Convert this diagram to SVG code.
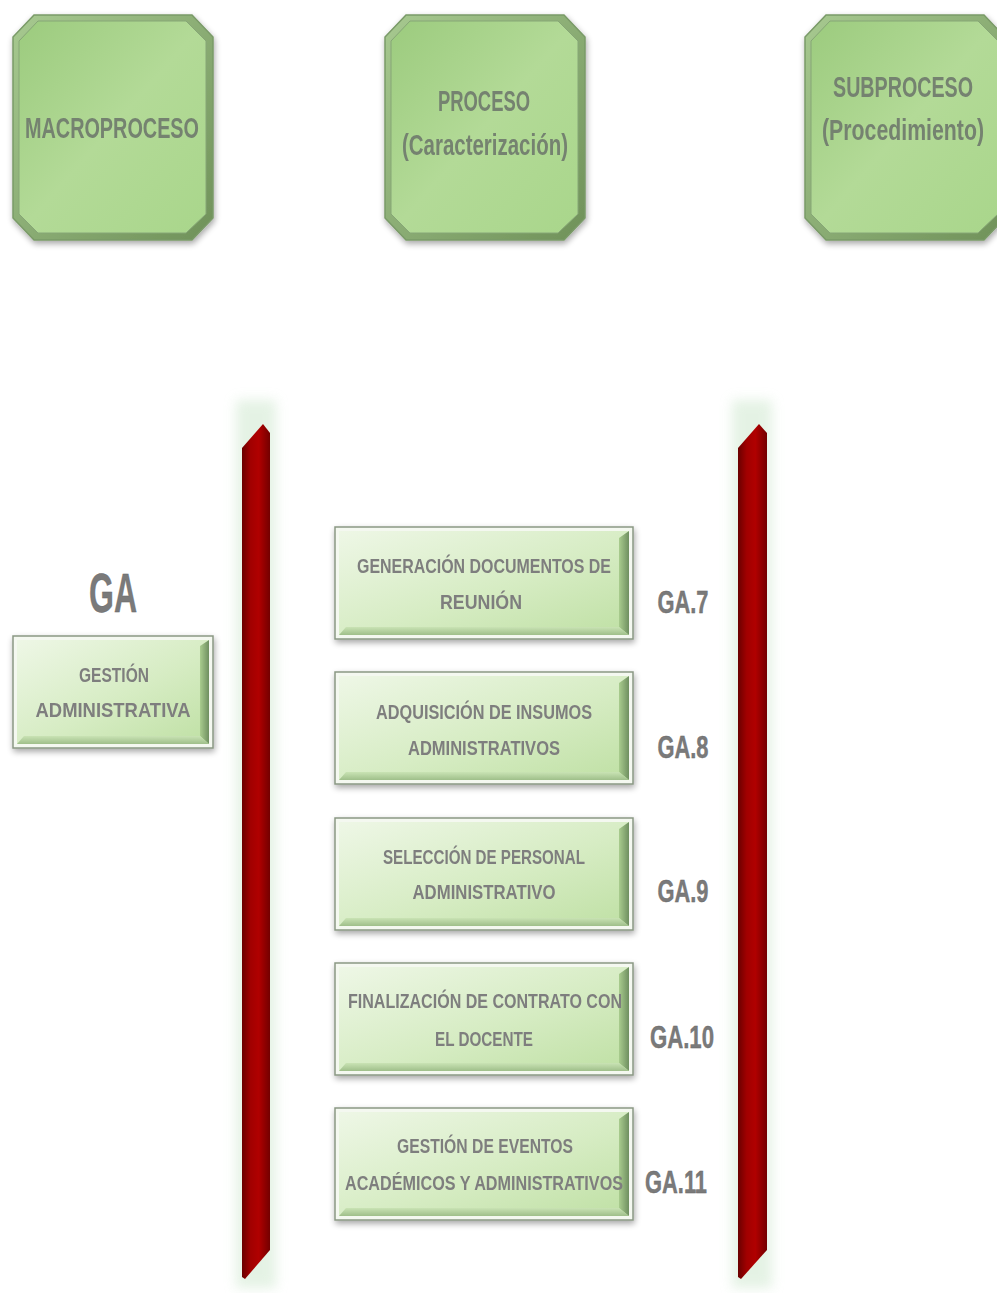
<svg xmlns="http://www.w3.org/2000/svg" width="997" height="1293" viewBox="0 0 997 1293">
  <defs>
    <linearGradient id="octFill" x1="0" y1="0" x2="1" y2="1">
      <stop offset="0" stop-color="#9ccb7e"/>
      <stop offset="0.5" stop-color="#b3da97"/>
      <stop offset="1" stop-color="#a9d68b"/>
    </linearGradient>
    <linearGradient id="octEdge" x1="0" y1="0" x2="1" y2="1">
      <stop offset="0" stop-color="#a7c990"/>
      <stop offset="1" stop-color="#6f9159"/>
    </linearGradient>
    <linearGradient id="boxFill" x1="0" y1="0" x2="1" y2="1">
      <stop offset="0" stop-color="#eef7e6"/>
      <stop offset="0.55" stop-color="#d6ecc3"/>
      <stop offset="1" stop-color="#bfe0a4"/>
    </linearGradient>
    <linearGradient id="boxBottom" x1="0" y1="0" x2="0" y2="1">
      <stop offset="0" stop-color="#c9e3b4"/>
      <stop offset="1" stop-color="#9fbf8a"/>
    </linearGradient>
    <linearGradient id="boxRight" x1="0" y1="0" x2="1" y2="0">
      <stop offset="0" stop-color="#a9cc8e"/>
      <stop offset="1" stop-color="#6f8f60"/>
    </linearGradient>
    <linearGradient id="barFill" x1="0" y1="0" x2="1" y2="0">
      <stop offset="0" stop-color="#6a0000"/>
      <stop offset="0.3" stop-color="#a10000"/>
      <stop offset="0.6" stop-color="#b00000"/>
      <stop offset="1" stop-color="#730000"/>
    </linearGradient>
    <filter id="shadow" x="-10%" y="-10%" width="125%" height="125%">
      <feGaussianBlur in="SourceAlpha" stdDeviation="3"/>
      <feOffset dx="1" dy="3"/>
      <feComponentTransfer><feFuncA type="linear" slope="0.35"/></feComponentTransfer>
      <feMerge><feMergeNode/><feMergeNode in="SourceGraphic"/></feMerge>
    </filter>
    <filter id="glow" x="-100%" y="-10%" width="300%" height="120%">
      <feGaussianBlur stdDeviation="6"/>
    </filter>
  </defs>
  <style>
    .oct-outer { fill: url(#octEdge); stroke: #7a9a68; stroke-width: 1.5; }
    .oct-inner { fill: url(#octFill); stroke: #86a676; stroke-width: 1; }
    .box-outer { fill: #f4f8f0; stroke: #8a9884; stroke-width: 1.5; }
    .box-fill { fill: url(#boxFill); }
    .box-right { fill: url(#boxRight); }
    .box-bottom { fill: url(#boxBottom); }
    .head { font-family: "Liberation Sans", Arial, sans-serif; font-weight: bold; font-size: 29px; fill: #748270; text-anchor: middle; }
    .lbl { font-family: "Liberation Sans", Arial, sans-serif; font-weight: bold; font-size: 20px; fill: #7e7e7e; text-anchor: middle; }
    .code { font-family: "Liberation Sans", Arial, sans-serif; font-weight: bold; font-size: 32px; fill: #7a7a7a; stroke: #666; stroke-width: 0.4; text-anchor: middle; }
    .bar { fill: url(#barFill); }
    .bar-glow { fill: #cfe8cf; opacity: 0.55; }
  </style>

  <rect width="997" height="1293" fill="#ffffff"/>

  <!-- column headers -->
  <g id="macroproceso-header" filter="url(#shadow)">
    <polygon class="oct-outer" points="34,15 192,15 213,37 213,218 192,240 34,240 13,218 13,37"/>
    <polygon class="oct-inner" points="38,21 186,21 206,41 206,214 186,233 38,233 19,214 19,41"/>
    <text class="head" x="112" y="138" textLength="174" lengthAdjust="spacingAndGlyphs">MACROPROCESO</text>
  </g>
  <g id="proceso-header" filter="url(#shadow)">
    <polygon class="oct-outer" points="406,15 564,15 585,37 585,218 564,240 406,240 385,218 385,37"/>
    <polygon class="oct-inner" points="410,21 558,21 578,41 578,214 558,233 410,233 391,214 391,41"/>
    <text class="head" x="484" y="111" textLength="92" lengthAdjust="spacingAndGlyphs">PROCESO</text>
    <text class="head" x="485" y="155" textLength="166" lengthAdjust="spacingAndGlyphs">(Caracterización)</text>
  </g>
  <g id="subproceso-header" filter="url(#shadow)">
    <polygon class="oct-outer" points="826,15 984,15 1005,37 1005,218 984,240 826,240 805,218 805,37"/>
    <polygon class="oct-inner" points="830,21 978,21 998,41 998,214 978,233 830,233 811,214 811,41"/>
    <text class="head" x="903" y="97" textLength="140" lengthAdjust="spacingAndGlyphs">SUBPROCESO</text>
    <text class="head" x="903" y="140" textLength="162" lengthAdjust="spacingAndGlyphs">(Procedimiento)</text>
  </g>

  <!-- vertical dividers -->
  <g id="dividers">
    <rect class="bar-glow" x="236" y="400" width="40" height="888" filter="url(#glow)"/>
    <rect class="bar-glow" x="732" y="400" width="40" height="888" filter="url(#glow)"/>
    <polygon class="bar" points="242,448 263,424 270,433 270,1250 245,1279 242,1277"/>
    <polygon class="bar" points="738,448 759,424 767,433 767,1250 741,1279 738,1277"/>
  </g>

  <!-- macroprocess -->
  <g id="ga">
    <text class="code" x="113" y="612" style="font-size:56px" textLength="48" lengthAdjust="spacingAndGlyphs">GA</text>
  </g>
  <g id="gestion-administrativa" filter="url(#shadow)">
    <rect class="box-outer" x="13" y="636" width="200" height="112"/>
    <rect class="box-fill" x="17" y="640" width="192" height="104"/>
    <polygon class="box-right" points="200,646 209,640 209,744 200,736"/>
    <polygon class="box-bottom" points="24,736 200,736 209,744 17,744"/>
    <text class="lbl" x="114" y="682" textLength="70" lengthAdjust="spacingAndGlyphs">GESTIÓN</text>
    <text class="lbl" x="113" y="717" textLength="155" lengthAdjust="spacingAndGlyphs">ADMINISTRATIVA</text>
  </g>

  <!-- subprocesses -->
  <g id="ga7" filter="url(#shadow)">
    <rect class="box-outer" x="335" y="527" width="298" height="112"/>
    <rect class="box-fill" x="339" y="531" width="290" height="104"/>
    <polygon class="box-right" points="619,538 629,531 629,635 619,627"/>
    <polygon class="box-bottom" points="346,627 619,627 629,635 339,635"/>
    <text class="lbl" x="484" y="573" textLength="254" lengthAdjust="spacingAndGlyphs">GENERACIÓN DOCUMENTOS DE</text>
    <text class="lbl" x="481" y="609" textLength="82" lengthAdjust="spacingAndGlyphs">REUNIÓN</text>
  </g>
  <text class="code" x="683" y="613" textLength="51" lengthAdjust="spacingAndGlyphs">GA.7</text>

  <g id="ga8" filter="url(#shadow)">
    <rect class="box-outer" x="335" y="672" width="298" height="112"/>
    <rect class="box-fill" x="339" y="676" width="290" height="104"/>
    <polygon class="box-right" points="619,683 629,676 629,780 619,772"/>
    <polygon class="box-bottom" points="346,772 619,772 629,780 339,780"/>
    <text class="lbl" x="484" y="719" textLength="216" lengthAdjust="spacingAndGlyphs">ADQUISICIÓN DE INSUMOS</text>
    <text class="lbl" x="484" y="755" textLength="152" lengthAdjust="spacingAndGlyphs">ADMINISTRATIVOS</text>
  </g>
  <text class="code" x="683" y="758" textLength="51" lengthAdjust="spacingAndGlyphs">GA.8</text>

  <g id="ga9" filter="url(#shadow)">
    <rect class="box-outer" x="335" y="818" width="298" height="112"/>
    <rect class="box-fill" x="339" y="822" width="290" height="104"/>
    <polygon class="box-right" points="619,829 629,822 629,926 619,918"/>
    <polygon class="box-bottom" points="346,918 619,918 629,926 339,926"/>
    <text class="lbl" x="484" y="864" textLength="202" lengthAdjust="spacingAndGlyphs">SELECCIÓN DE PERSONAL</text>
    <text class="lbl" x="484" y="899" textLength="143" lengthAdjust="spacingAndGlyphs">ADMINISTRATIVO</text>
  </g>
  <text class="code" x="683" y="902" textLength="51" lengthAdjust="spacingAndGlyphs">GA.9</text>

  <g id="ga10" filter="url(#shadow)">
    <rect class="box-outer" x="335" y="963" width="298" height="112"/>
    <rect class="box-fill" x="339" y="967" width="290" height="104"/>
    <polygon class="box-right" points="619,974 629,967 629,1071 619,1063"/>
    <polygon class="box-bottom" points="346,1063 619,1063 629,1071 339,1071"/>
    <text class="lbl" x="485" y="1008" textLength="274" lengthAdjust="spacingAndGlyphs">FINALIZACIÓN DE CONTRATO CON</text>
    <text class="lbl" x="484" y="1046" textLength="98" lengthAdjust="spacingAndGlyphs">EL DOCENTE</text>
  </g>
  <text class="code" x="682" y="1048" textLength="64" lengthAdjust="spacingAndGlyphs">GA.10</text>

  <g id="ga11" filter="url(#shadow)">
    <rect class="box-outer" x="335" y="1108" width="298" height="112"/>
    <rect class="box-fill" x="339" y="1112" width="290" height="104"/>
    <polygon class="box-right" points="619,1119 629,1112 629,1216 619,1208"/>
    <polygon class="box-bottom" points="346,1208 619,1208 629,1216 339,1216"/>
    <text class="lbl" x="485" y="1153" textLength="176" lengthAdjust="spacingAndGlyphs">GESTIÓN DE EVENTOS</text>
    <text class="lbl" x="484" y="1190" textLength="278" lengthAdjust="spacingAndGlyphs">ACADÉMICOS Y ADMINISTRATIVOS</text>
  </g>
  <text class="code" x="676" y="1193" textLength="62" lengthAdjust="spacingAndGlyphs">GA.11</text>
</svg>
